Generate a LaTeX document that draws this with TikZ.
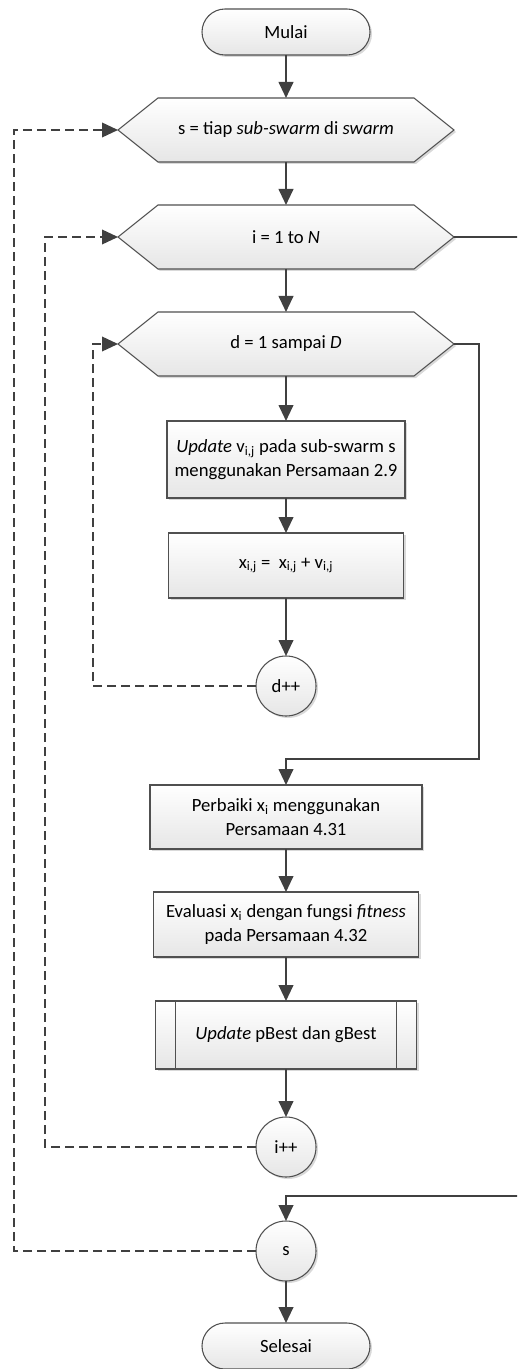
\documentclass[tikz,border=0pt]{standalone}
\usepackage{fontspec}
\setmainfont{Carlito}
\usetikzlibrary{positioning,shapes.misc,shapes.symbols,shadows,arrows.meta}
\newcommand{\FlowPx}{0.75}
\definecolor{flowline}{HTML}{404040}
\definecolor{flowedge}{HTML}{505050}
\definecolor{flowfill}{HTML}{E6E6E6}
\tikzset{
  box/.style={draw=flowedge, line width=0.8pt, top color=white, bottom color=flowfill,
    drop shadow={shadow xshift=1.5pt, shadow yshift=-1.5pt, fill=black, opacity=0.15},
    inner sep=0pt, outer sep=0pt, align=center, font=\fontsize{14}{17.5}\selectfont},
  terminal/.style={box, rounded rectangle, minimum width=\FlowPx*168 pt, minimum height=\FlowPx*46 pt},
  loophex/.style={box, signal, signal to=west and east, signal pointer angle=77.3,
    minimum width=\FlowPx*336 pt, minimum height=\FlowPx*64 pt},
  process/.style={box, rectangle},
  subproc/.style={process, path picture={
      \draw[flowedge, line width=0.8pt] ([xshift=15pt]path picture bounding box.north west) -- ([xshift=15pt]path picture bounding box.south west);
      \draw[flowedge, line width=0.8pt] ([xshift=-15pt]path picture bounding box.north east) -- ([xshift=-15pt]path picture bounding box.south east);}},
  counter/.style={box, circle, minimum size=\FlowPx*60 pt},
  flow/.style={draw=flowline, line width=1.5pt, -{Triangle[length=12pt,width=11pt]}},
  back/.style={flow, line width=1.2pt, dash pattern=on 6.5pt off 4pt},
}
\begin{document}
\begin{tikzpicture}[x=0.75pt, y=-0.75pt]
  \useasboundingbox (0,0) rectangle (517,1369);
  \clip (0,0) rectangle (517,1369);

  % main column
  \node[terminal] (start) at (286,32) {Mulai};
  \node[loophex, below=\FlowPx*43 pt of start] (loopS) {s = tiap \textit{sub-swarm} di \textit{swarm}};
  \node[loophex, below=\FlowPx*43 pt of loopS] (loopI) {i = 1 to \textit{N}};
  \node[loophex, below=\FlowPx*43 pt of loopI] (loopD) {d = 1 sampai \textit{D}};
  \node[process, minimum width=\FlowPx*238 pt, minimum height=\FlowPx*77 pt, below=\FlowPx*45 pt of loopD] (updV)
    {\textit{Update} v\textsubscript{i,j} pada sub-swarm s\\menggunakan Persamaan 2.9};
  \node[process, minimum width=\FlowPx*235 pt, minimum height=\FlowPx*65 pt, below=\FlowPx*35 pt of updV] (updX)
    {x\textsubscript{i,j} = \ x\textsubscript{i,j} + v\textsubscript{i,j}};
  \node[counter, below=\FlowPx*58 pt of updX] (dInc) {d++};
  \node[process, minimum width=\FlowPx*272 pt, minimum height=\FlowPx*64 pt, below=\FlowPx*69 pt of dInc] (fix)
    {Perbaiki x\textsubscript{i} menggunakan\\Persamaan 4.31};
  \node[process, minimum width=\FlowPx*265 pt, minimum height=\FlowPx*65 pt, below=\FlowPx*43 pt of fix] (evalFit)
    {Evaluasi x\textsubscript{i} dengan fungsi \textit{fitness}\\pada Persamaan 4.32};
  \node[subproc, minimum width=\FlowPx*261 pt, minimum height=\FlowPx*68 pt, below=\FlowPx*44 pt of evalFit] (best)
    {\textit{Update} pBest dan gBest};
  \node[counter, below=\FlowPx*48 pt of best] (iInc) {i++};
  \node[counter, below=\FlowPx*44 pt of iInc] (sInc) {s};
  \node[terminal, below=\FlowPx*42 pt of sInc] (stop) {Selesai};

  % rails for the loops
  \coordinate (railS) at (14,0);
  \coordinate (railI) at (45,0);
  \coordinate (railD) at (93,0);
  \coordinate (exitD) at (479,759);
  \coordinate (exitI) at (524,1196);

  \draw[flow] (start.south) -- (loopS.north);
  \draw[flow] (loopS.south) -- (loopI.north);
  \draw[flow] (loopI.south) -- (loopD.north);
  \draw[flow] (loopD.south) -- (updV.north);
  \draw[flow] (updV.south) -- (updX.north);
  \draw[flow] (updX.south) -- (dInc.north);
  \draw[back] (dInc.west) -- (dInc.west -| railD) |- (loopD.west);
  \draw[flow] (loopD.east) -| (exitD) -| (fix.north);
  \draw[flow] (fix.south) -- (evalFit.north);
  \draw[flow] (evalFit.south) -- (best.north);
  \draw[flow] (best.south) -- (iInc.north);
  \draw[back] (iInc.west) -- (iInc.west -| railI) |- (loopI.west);
  \draw[flow] (loopI.east) -| (exitI) -| (sInc.north);
  \draw[back] (sInc.west) -- (sInc.west -| railS) |- (loopS.west);
  \draw[flow] (sInc.south) -- (stop.north);
\end{tikzpicture}
\end{document}
